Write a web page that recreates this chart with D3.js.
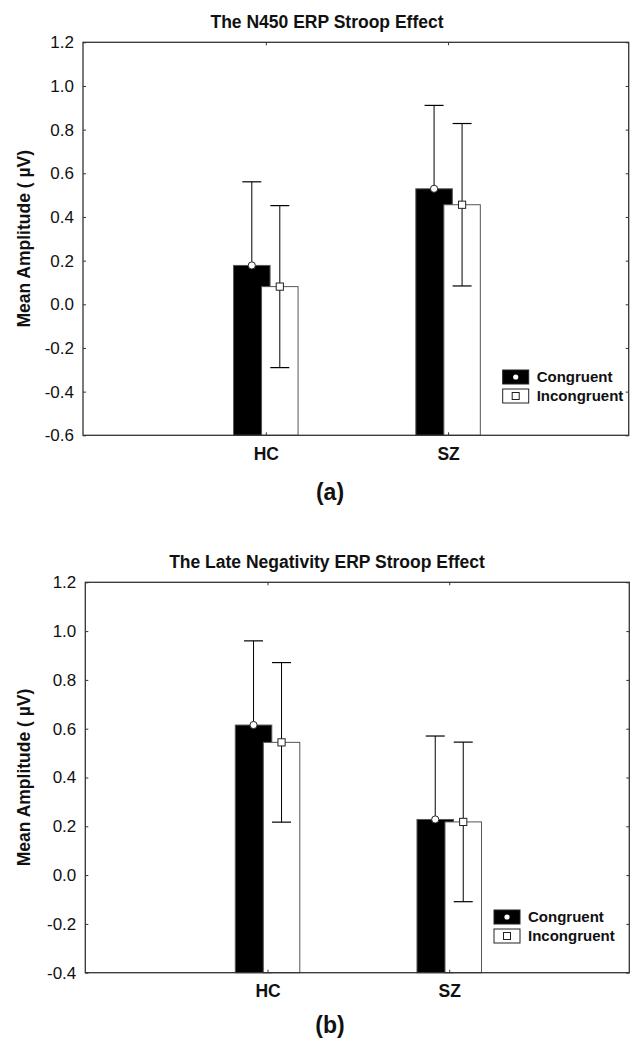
<!DOCTYPE html>
<html lang="en">
<head>
<meta charset="UTF-8" />
<title>ERP Stroop Effect</title>
<script src="https://cdn.jsdelivr.net/npm/d3@7"></script>
<style>
  body { margin: 0; background: #fff; }
  svg { display: block; font-family: "Liberation Sans", Arial, sans-serif; }
</style>
</head>
<body>
<svg id="fig" width="638" height="1042"></svg>
<script>
  // data (means and standard errors, in µV)
  const groups = ["HC", "SZ"];
  const seriesNames = ["Congruent", "Incongruent"];

  const n450Congruent = [0.178, 0.529];
  const n450CongruentSE = [0.383, 0.382];
  const n450Incongruent = [0.081, 0.456];
  const n450IncongruentSE = [0.371, 0.372];
  const n450Ticks = [-0.6, -0.4, -0.2, 0.0, 0.2, 0.4, 0.6, 0.8, 1.0, 1.2];

  const lateCongruent = [0.615, 0.228];
  const lateCongruentSE = [0.345, 0.342];
  const lateIncongruent = [0.544, 0.218];
  const lateIncongruentSE = [0.327, 0.327];
  const lateTicks = [-0.4, -0.2, 0.0, 0.2, 0.4, 0.6, 0.8, 1.0, 1.2];

  const svg = d3.select('#fig');
  const axisColor = '#333';

  function drawPanel(p) {
    const w = p.right - p.left, h = p.bottom - p.top;
    const g = svg.append('g').attr('transform', `translate(${p.left},${p.top})`);

    const x = d3.scalePoint().domain(groups).range([w * 0.335, w * 0.669]);
    const y = d3.scaleLinear().domain(d3.extent(p.ticks)).range([h, 0]);
    const off = 14, bw = 36.5;

    const series = [
      { name: seriesNames[0], mean: p.cong, se: p.congSE, dx: -off, fill: '#000' },
      { name: seriesNames[1], mean: p.incong, se: p.incongSE, dx: off, fill: '#fff' }
    ];

    series.forEach((s, si) => {
      const sg = g.append('g');
      // bars
      sg.selectAll('rect')
        .data(groups)
        .enter().append('rect')
        .attr('x', (d, i) => x(d) + s.dx - bw / 2)
        .attr('y', (d, i) => y(s.mean[i]))
        .attr('width', bw)
        .attr('height', (d, i) => h - y(s.mean[i]))
        .style('fill', s.fill)
        .style('stroke', '#555')
        .style('stroke-width', 1);

      // error bars (the lower half of the black ones disappears into the bar)
      const eb = sg.selectAll('g.err')
        .data(groups)
        .enter().append('g').attr('class', 'err');
      const lineCol = '#000';
      eb.append('line')
        .attr('x1', (d) => x(d) + s.dx).attr('x2', (d) => x(d) + s.dx)
        .attr('y1', (d, i) => y(s.mean[i] + s.se[i]))
        .attr('y2', (d, i) => y(s.mean[i] - s.se[i]))
        .style('stroke', lineCol).style('stroke-width', 1);
      [1, -1].forEach(sign => {
        eb.append('line')
          .attr('x1', (d) => x(d) + s.dx - 9.5).attr('x2', (d) => x(d) + s.dx + 9.5)
          .attr('y1', (d, i) => y(s.mean[i] + sign * s.se[i]))
          .attr('y2', (d, i) => y(s.mean[i] + sign * s.se[i]))
          .style('stroke', lineCol).style('stroke-width', 1.2);
      });
    });

    // markers at the means, drawn after all bars
    const s0 = series[0], s1 = series[1];
    g.selectAll('circle.m')
      .data(groups)
      .enter().append('circle').attr('class', 'm')
      .attr('cx', d => x(d) + s0.dx)
      .attr('cy', (d, i) => y(s0.mean[i]))
      .attr('r', 3.6)
      .style('fill', '#fff').style('stroke', '#222').style('stroke-width', 1);
    g.selectAll('rect.m')
      .data(groups)
      .enter().append('rect').attr('class', 'm')
      .attr('x', d => x(d) + s1.dx - 3.6)
      .attr('y', (d, i) => y(s1.mean[i]) - 3.6)
      .attr('width', 7.2).attr('height', 7.2)
      .style('fill', '#fff').style('stroke', '#222').style('stroke-width', 1);

    // axes (ticks point inward)
    const fmt = d => d.toFixed(1);
    const yl = g.append('g')
      .call(d3.axisLeft(y).tickValues(p.ticks).tickFormat(fmt).tickSizeInner(-3).tickSizeOuter(0).tickPadding(9));
    yl.selectAll('text').style('font-size', '17px').style('fill', '#111');
    const yr = g.append('g').attr('transform', `translate(${w},0)`)
      .call(d3.axisRight(y).tickValues(p.ticks).tickFormat('').tickSizeInner(-3).tickSizeOuter(0));
    const xt = g.append('g')
      .call(d3.axisTop(x).tickFormat('').tickSizeInner(-3).tickSizeOuter(0));
    const xb = g.append('g').attr('transform', `translate(0,${h})`)
      .call(d3.axisBottom(x).tickSizeInner(-3).tickSizeOuter(0).tickPadding(12));
    xb.selectAll('text').style('font-size', '17.5px').style('font-weight', 'bold').style('fill', '#111');
    [yl, yr, xt, xb].forEach(a => {
      a.select('.domain').remove();
      a.selectAll('line').style('stroke', axisColor);
    });

    // frame
    g.append('rect')
      .attr('width', w).attr('height', h)
      .style('fill', 'none').style('stroke', axisColor).style('stroke-width', 1.3);

    // legend
    const lg = svg.append('g').attr('transform', `translate(${p.legX},${p.legY})`);
    series.forEach((s, i) => {
      const row = lg.append('g').attr('transform', `translate(0,${i * 19})`);
      row.append('rect').attr('width', 26).attr('height', 14)
        .style('fill', s.fill).style('stroke', '#222').style('stroke-width', 1);
      if (i === 0) {
        row.append('circle').attr('cx', 13).attr('cy', 7).attr('r', 2.6).style('fill', '#fff');
      } else {
        row.append('rect').attr('x', 9.5).attr('y', 3.5).attr('width', 7).attr('height', 7)
          .style('fill', '#fff').style('stroke', '#222').style('stroke-width', 1);
      }
      row.append('text').attr('x', 34).attr('y', 12.3)
        .style('font-size', '15px').style('font-weight', 'bold').style('fill', '#111')
        .text(s.name);
    });

    // title, y label, panel letter
    svg.append('text')
      .attr('x', 327).attr('y', p.titleY)
      .attr('text-anchor', 'middle')
      .style('font-size', '17.5px').style('font-weight', 'bold').style('fill', '#111')
      .text(p.title);
    svg.append('text')
      .attr('transform', `translate(30,${p.top + h / 2}) rotate(-90)`)
      .attr('text-anchor', 'middle')
      .style('font-size', '17.5px').style('font-weight', 'bold').style('fill', '#111')
      .text('Mean Amplitude ( µV)');
    svg.append('text')
      .attr('x', 330).attr('y', p.letterY)
      .attr('text-anchor', 'middle')
      .style('font-size', '23px').style('font-weight', 'bold').style('fill', '#111')
      .text(p.letter);
  }

  drawPanel({
    title: 'The N450 ERP Stroop Effect', letter: '(a)',
    left: 83, right: 628.7, top: 42.3, bottom: 435.3,
    ticks: n450Ticks,
    cong: n450Congruent, congSE: n450CongruentSE,
    incong: n450Incongruent, incongSE: n450IncongruentSE,
    legX: 502.7, legY: 370, titleY: 27.7, letterY: 499.5
  });

  drawPanel({
    title: 'The Late Negativity ERP Stroop Effect', letter: '(b)',
    left: 85.3, right: 629.3, top: 582.3, bottom: 972.7,
    ticks: lateTicks,
    cong: lateCongruent, congSE: lateCongruentSE,
    incong: lateIncongruent, incongSE: lateIncongruentSE,
    legX: 494, legY: 910, titleY: 568.3, letterY: 1032.8
  });
</script>
</body>
</html>
